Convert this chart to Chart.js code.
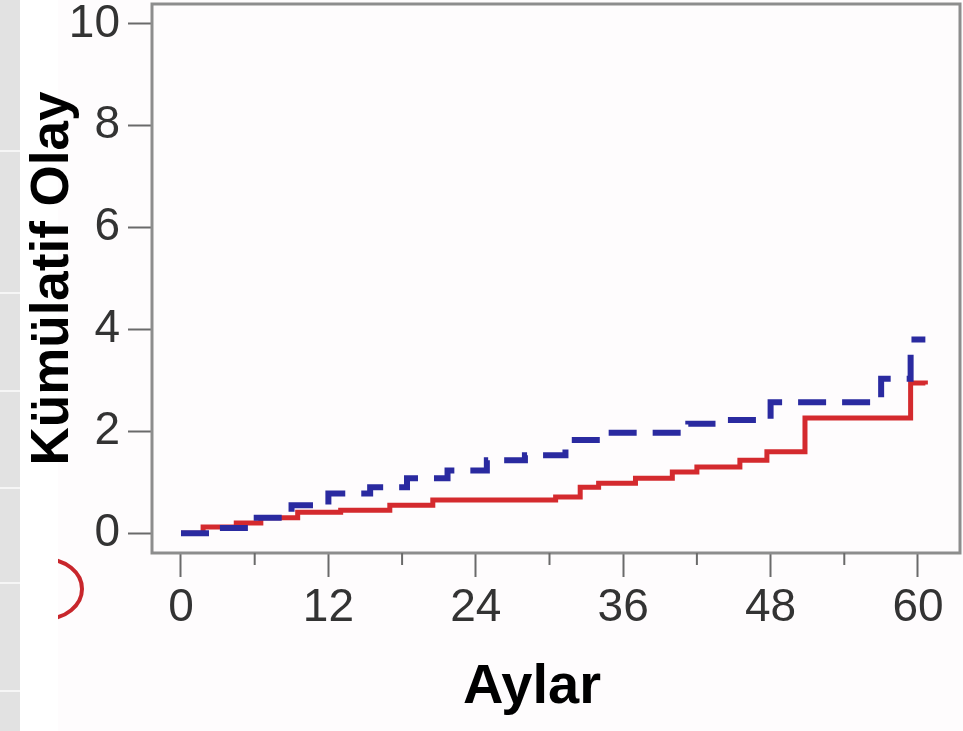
<!DOCTYPE html>
<html>
<head>
<meta charset="utf-8">
<script src="https://cdn.jsdelivr.net/npm/chart.js@4.4.0/dist/chart.umd.min.js"></script>
<style>
  html, body { margin: 0; padding: 0; background: #fefcfd; }
  #wrap { position: relative; width: 963px; height: 731px; }
</style>
</head>
<body>
<div id="wrap"><canvas id="cumEvents" width="963" height="731"></canvas></div>
<script>
// month where each curve steps, and the cumulative value reached there
const redMonths  = [0, 1.8, 4.5, 6.5, 9.5, 13.0, 17.0, 20.5, 30.5, 32.5, 34.0, 37.0, 40.0, 42.0, 45.5, 47.7, 50.8, 59.4, 60.6];
const redValues  = [0, 0.12, 0.2, 0.3, 0.41, 0.45, 0.55, 0.65, 0.71, 0.9, 0.98, 1.08, 1.2, 1.3, 1.43, 1.6, 2.26, 2.95, 2.92];
const blueMonths = [0, 2.5, 5.6, 9.0, 12.0, 15.4, 18.4, 21.7, 24.9, 28.0, 31.3, 34.1, 41.3, 44.3, 48.0, 57.0, 59.4, 60.6];
const blueValues = [0, 0.1, 0.3, 0.55, 0.78, 0.9, 1.08, 1.23, 1.43, 1.53, 1.83, 1.97, 2.15, 2.22, 2.57, 3.03, 3.8, 3.8];
const xTicks = [0, 12, 24, 36, 48, 60];
const xMinorTicks = [6, 18, 30, 42, 54];
const yTicks = [0, 2, 4, 6, 8, 10];
const xTitle = 'Aylar';

const toPoints = (xs, ys) => xs.map((m, i) => ({ x: m, y: ys[i] }));

const tickFont = { family: "'Liberation Sans Narrow', 'Liberation Sans', Arial", size: 46 };
const titleFont = { family: "'Liberation Sans', Arial", size: 53, weight: 'bold' };

// slide leftovers behind the chart: grey strip and a red marker arc
const backdrop = {
  id: 'backdrop',
  beforeDraw(chart) {
    const ctx = chart.ctx;
    ctx.save();
    ctx.fillStyle = '#fefcfd';
    ctx.fillRect(0, 0, chart.width, chart.height);
    ctx.fillStyle = '#ffffff';
    ctx.fillRect(20, 0, 38, chart.height);
    ctx.fillStyle = '#e2e2e2';
    ctx.fillRect(0, 0, 20, chart.height);
    ctx.fillStyle = '#f6f6f6';
    [150, 292, 390, 487, 582, 690].forEach(y => ctx.fillRect(0, y, 20, 2));
    ctx.beginPath();
    ctx.rect(58, 540, 60, 100);
    ctx.clip();
    ctx.beginPath();
    ctx.ellipse(45, 589, 37, 30, 0, 0, Math.PI * 2);
    ctx.strokeStyle = '#c8262c';
    ctx.lineWidth = 4;
    ctx.stroke();
    ctx.restore();
  }
};

// frame round the plot, short minor ticks on x, and the x title
const frame = {
  id: 'frame',
  afterDraw(chart) {
    const { ctx, chartArea: a, scales } = chart;
    ctx.save();
    ctx.strokeStyle = '#8d8d8d';
    ctx.lineWidth = 3;
    ctx.strokeRect(a.left, a.top, a.right - a.left, a.bottom - a.top);
    ctx.strokeStyle = '#6a6a6a';
    ctx.lineWidth = 2;
    xMinorTicks.forEach(v => {
      const px = scales.x.getPixelForValue(v);
      ctx.beginPath();
      ctx.moveTo(px, a.bottom);
      ctx.lineTo(px, a.bottom + 12);
      ctx.stroke();
    });
    ctx.fillStyle = '#000';
    ctx.font = "bold 56px 'Liberation Sans', Arial";
    ctx.textAlign = 'center';
    ctx.textBaseline = 'alphabetic';
    ctx.fillText(xTitle, 532, 703);
    ctx.restore();
  }
};

new Chart(document.getElementById('cumEvents'), {
  type: 'line',
  data: {
    datasets: [{
      label: 'Mavi',
      data: toPoints(blueMonths, blueValues),
      borderColor: '#2a2aa0',
      borderWidth: 6,
      borderDash: [28, 16],
      stepped: true,
      pointRadius: 0,
      fill: false
    }, {
      label: 'Kırmızı',
      data: toPoints(redMonths, redValues),
      borderColor: '#d42a2e',
      borderWidth: 5,
      stepped: true,
      pointRadius: 0,
      fill: false
    }]
  },
  options: {
    responsive: false,
    animation: false,
    layout: { padding: { left: 0, right: 3, top: 4, bottom: 0 } },
    plugins: {
      legend: { display: false },
      tooltip: { enabled: false }
    },
    scales: {
      x: {
        type: 'linear',
        min: -2.36,
        max: 63.42,
        afterBuildTicks: s => { s.ticks = xTicks.map(v => ({ value: v })); },
        afterFit: s => { s.height = 178; s.paddingLeft = 0; s.paddingRight = 0; },
        ticks: { font: tickFont, color: '#333', padding: 4, maxRotation: 0, autoSkip: false },
        grid: { drawOnChartArea: false, tickLength: 24, tickColor: '#6a6a6a', tickWidth: 2 },
        border: { display: false },
        title: { display: false }
      },
      y: {
        min: -0.39,
        max: 10.39,
        afterBuildTicks: s => { s.ticks = yTicks.map(v => ({ value: v })); },
        afterFit: s => { s.width = 152; s.paddingTop = 0; s.paddingBottom = 0; },
        ticks: { font: tickFont, color: '#333', padding: 8 },
        grid: { drawOnChartArea: false, tickLength: 24, tickColor: '#6a6a6a', tickWidth: 2 },
        border: { display: false },
        title: { display: true, text: 'Kümülatif Olay', font: titleFont, color: '#000', padding: { top: 22, bottom: 0 } }
      }
    }
  },
  plugins: [backdrop, frame]
});
</script>
</body>
</html>
